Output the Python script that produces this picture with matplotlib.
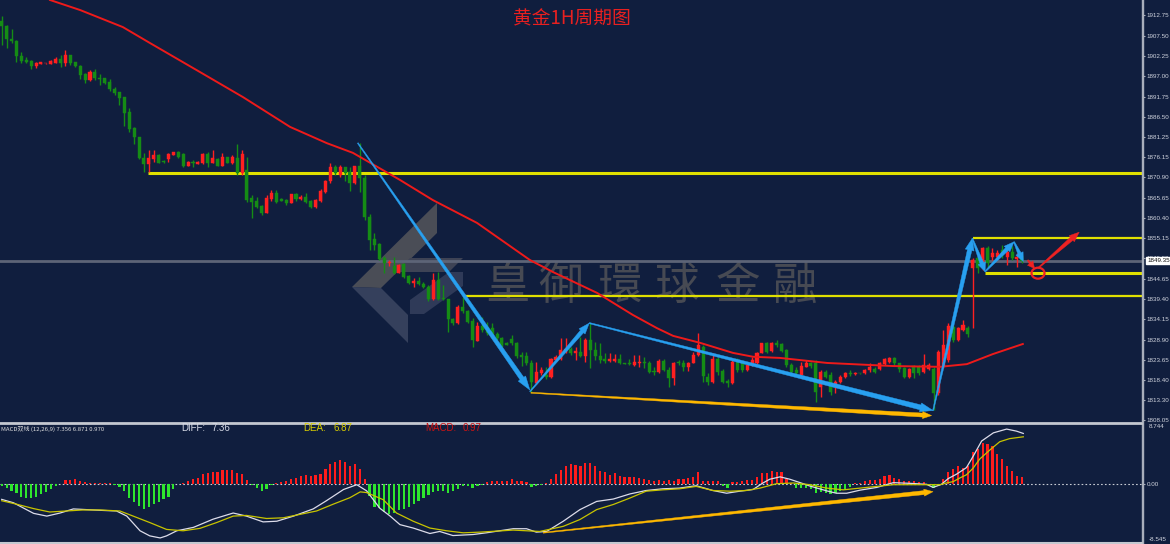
import numpy as np
import matplotlib
matplotlib.use('Agg')
import matplotlib.pyplot as plt
from matplotlib.patches import Polygon, Ellipse
from matplotlib.transforms import IdentityTransform, blended_transform_factory

plt.rcParams['font.family'] = ['Noto Sans CJK SC', 'DejaVu Sans']

# ---- 1H K线数据 ----
opens = [1911.4, 1910.0, 1906.5, 1906.2, 1902.2, 1901.2, 1900.9, 1899.6, 1900.2, 1900.3,
         1900.2, 1900.5, 1901.4, 1900.3, 1902.5, 1900.8, 1899.7, 1897.6, 1896.0, 1898.2,
         1896.6, 1896.5, 1895.6, 1893.8, 1892.8, 1891.6, 1887.8, 1883.6, 1881.3, 1875.9,
         1874.3, 1875.5, 1876.6, 1875.0, 1875.5, 1876.6, 1877.5, 1876.9, 1873.9, 1874.9,
         1874.4, 1874.5, 1876.9, 1874.7, 1875.7, 1873.9, 1876.0, 1874.5, 1875.9, 1871.9,
         1872.8, 1865.5, 1864.8, 1863.5, 1861.6, 1865.2, 1866.9, 1865.2, 1865.0, 1864.2,
         1866.6, 1865.2, 1865.7, 1864.8, 1863.1, 1864.8, 1867.2, 1869.8, 1873.5, 1871.5,
         1873.5, 1872.2, 1869.3, 1873.8, 1870.6, 1860.7, 1854.9, 1853.6, 1849.9, 1848.7,
         1848.0, 1846.2, 1848.5, 1845.4, 1843.5, 1844.2, 1843.3, 1842.6, 1839.4, 1844.3,
         1839.7, 1839.4, 1834.2, 1833.2, 1837.3, 1836.2, 1833.8, 1828.7, 1832.5, 1832.3,
         1831.9, 1830.4, 1829.3, 1828.1, 1829.0, 1828.0, 1824.9, 1824.7, 1823.0, 1817.7,
         1820.2, 1819.8, 1819.4, 1823.7, 1823.9, 1825.7, 1826.4, 1825.5, 1825.7, 1824.7,
         1828.8, 1826.3, 1824.7, 1823.9, 1823.5, 1823.5, 1823.9, 1822.8, 1822.8, 1822.4,
         1822.8, 1823.2, 1822.8, 1820.9, 1820.6, 1823.5, 1821.1, 1819.0, 1823.2, 1822.8,
         1821.9, 1823.0, 1825.0, 1827.1, 1819.4, 1818.1, 1823.9, 1820.9, 1818.3, 1817.7,
         1823.2, 1822.8, 1821.1, 1822.4, 1822.8, 1825.6, 1828.0, 1826.1, 1828.1, 1827.8,
         1826.3, 1822.4, 1821.1, 1819.8, 1821.9, 1822.9, 1822.8, 1816.8, 1820.6, 1819.8,
         1816.8, 1818.1, 1819.4, 1820.4, 1820.1, 1820.3, 1820.2, 1821.1, 1821.3, 1821.3,
         1822.6, 1823.2, 1824.1, 1822.8, 1821.5, 1819.2, 1822.1, 1821.9, 1820.6, 1821.3,
         1821.3, 1815.1, 1821.9, 1823.7, 1832.3, 1828.8, 1831.4, 1831.9, 1847.4, 1849.9,
         1849.1, 1852.5, 1850.2, 1850.4, 1852.1, 1850.4, 1851.7, 1849.7, 1850.0]
closes = [1910.0, 1906.5, 1906.2, 1902.2, 1900.9, 1900.7, 1899.6, 1900.5, 1900.6, 1900.3,
          1900.9, 1901.4, 1900.3, 1902.5, 1900.5, 1899.6, 1897.3, 1896.0, 1898.2, 1896.5,
          1896.2, 1895.3, 1893.6, 1892.6, 1891.5, 1887.6, 1883.4, 1881.3, 1875.8, 1874.3,
          1875.9, 1876.6, 1874.7, 1874.8, 1876.9, 1877.5, 1876.2, 1873.8, 1874.9, 1874.5,
          1874.9, 1876.9, 1874.7, 1875.8, 1873.9, 1876.1, 1874.7, 1876.1, 1871.9, 1876.9,
          1865.0, 1864.6, 1863.3, 1861.7, 1865.5, 1866.9, 1864.6, 1864.8, 1864.2, 1866.6,
          1865.2, 1865.9, 1864.6, 1863.3, 1865.0, 1867.4, 1869.9, 1873.6, 1871.9, 1873.6,
          1871.9, 1869.3, 1873.8, 1870.6, 1860.7, 1854.7, 1853.4, 1849.7, 1848.8, 1849.1,
          1846.2, 1848.2, 1845.2, 1843.6, 1844.2, 1843.3, 1842.5, 1839.4, 1844.3, 1839.4,
          1839.4, 1834.2, 1833.2, 1837.4, 1836.2, 1833.6, 1828.8, 1832.5, 1831.4, 1830.6,
          1829.7, 1829.3, 1827.6, 1827.6, 1828.0, 1824.7, 1824.5, 1822.8, 1818.1, 1820.6,
          1821.1, 1819.2, 1823.9, 1824.5, 1826.3, 1826.5, 1825.4, 1826.0, 1824.7, 1828.8,
          1826.3, 1824.7, 1823.7, 1823.5, 1823.9, 1823.9, 1822.8, 1822.7, 1822.6, 1823.2,
          1823.1, 1822.8, 1820.6, 1820.5, 1823.5, 1821.1, 1819.0, 1823.0, 1822.8, 1821.9,
          1823.0, 1825.0, 1827.5, 1819.5, 1818.1, 1823.9, 1820.6, 1818.1, 1817.7, 1823.2,
          1821.1, 1821.1, 1822.4, 1823.7, 1825.6, 1828.0, 1825.8, 1828.1, 1827.5, 1826.1,
          1822.4, 1820.6, 1820.2, 1822.1, 1823.0, 1822.1, 1815.5, 1820.6, 1819.4, 1815.5,
          1818.1, 1819.4, 1820.4, 1820.1, 1820.3, 1820.2, 1821.1, 1821.9, 1820.6, 1822.8,
          1823.9, 1824.1, 1822.8, 1821.3, 1819.4, 1821.3, 1820.2, 1820.2, 1822.4, 1822.4,
          1815.1, 1825.8, 1827.5, 1832.5, 1828.8, 1831.9, 1832.7, 1830.4, 1849.5, 1847.4,
          1852.5, 1848.7, 1851.4, 1851.2, 1850.8, 1851.7, 1850.0, 1850.4, 1849.35]
highs = [1912.6, 1910.2, 1909.2, 1906.4, 1903.3, 1901.9, 1901.2, 1900.8, 1900.7, 1900.4,
         1901.2, 1902.0, 1902.5, 1903.8, 1902.5, 1900.8, 1899.9, 1897.8, 1898.6, 1898.8,
         1897.6, 1896.5, 1896.2, 1894.1, 1892.8, 1891.7, 1888.8, 1883.9, 1881.4, 1877.2,
         1877.9, 1877.9, 1876.8, 1875.4, 1877.2, 1877.5, 1877.8, 1877.2, 1875.0, 1875.4,
         1875.1, 1877.1, 1877.5, 1877.9, 1875.9, 1877.1, 1876.1, 1876.6, 1879.5, 1877.9,
         1876.2, 1866.3, 1865.9, 1863.7, 1866.3, 1867.6, 1867.6, 1865.5, 1865.4, 1866.6,
         1866.9, 1866.3, 1866.9, 1865.0, 1865.2, 1867.9, 1870.2, 1874.5, 1874.1, 1874.1,
         1873.6, 1873.6, 1873.8, 1879.7, 1871.5, 1861.4, 1856.4, 1853.9, 1850.6, 1849.5,
         1850.4, 1848.5, 1848.7, 1845.6, 1844.8, 1845.1, 1843.8, 1843.1, 1846.1, 1846.4,
         1843.1, 1839.5, 1834.5, 1837.9, 1840.0, 1836.6, 1834.5, 1833.5, 1834.8, 1833.5,
         1833.2, 1830.9, 1829.7, 1828.3, 1830.1, 1828.3, 1825.7, 1825.7, 1823.7, 1823.2,
         1821.9, 1821.9, 1824.2, 1825.0, 1829.4, 1829.4, 1827.0, 1827.1, 1829.7, 1829.3,
         1833.3, 1828.4, 1828.0, 1825.4, 1825.4, 1825.2, 1825.2, 1822.9, 1823.9, 1825.0,
         1825.0, 1824.5, 1823.4, 1821.9, 1823.9, 1823.9, 1821.9, 1823.2, 1823.7, 1823.7,
         1823.2, 1825.8, 1830.6, 1827.5, 1820.2, 1825.4, 1824.5, 1821.3, 1818.7, 1823.7,
         1824.1, 1823.2, 1822.6, 1824.4, 1825.8, 1828.1, 1828.4, 1828.4, 1828.8, 1828.1,
         1826.4, 1823.0, 1821.9, 1823.2, 1823.7, 1823.2, 1823.7, 1821.1, 1821.1, 1820.6,
         1818.5, 1819.8, 1820.6, 1821.1, 1820.6, 1820.3, 1821.3, 1822.8, 1821.9, 1823.2,
         1824.1, 1824.4, 1824.5, 1823.0, 1821.9, 1821.5, 1822.4, 1822.4, 1825.2, 1822.8,
         1821.9, 1826.3, 1831.4, 1833.2, 1832.7, 1832.3, 1834.0, 1832.5, 1850.0, 1850.4,
         1852.9, 1853.0, 1852.6, 1852.1, 1853.4, 1852.1, 1853.0, 1851.2, 1850.8]
lows = [1905.1, 1904.4, 1905.6, 1900.8, 1900.5, 1900.3, 1898.9, 1899.2, 1900.1, 1900.2,
        1900.1, 1900.4, 1899.5, 1899.6, 1899.9, 1899.4, 1896.3, 1895.3, 1895.8, 1896.0,
        1894.8, 1895.0, 1893.3, 1892.2, 1889.6, 1884.1, 1882.7, 1879.5, 1875.5, 1872.3,
        1872.3, 1874.9, 1874.5, 1874.6, 1874.9, 1876.6, 1875.8, 1873.6, 1873.7, 1873.6,
        1874.3, 1874.4, 1873.6, 1874.5, 1873.8, 1873.8, 1874.5, 1874.3, 1871.5, 1871.5,
        1864.5, 1860.3, 1862.9, 1861.1, 1861.6, 1864.8, 1864.2, 1864.7, 1863.7, 1864.2,
        1864.8, 1865.0, 1864.2, 1862.9, 1862.9, 1864.5, 1866.9, 1869.5, 1871.5, 1871.0,
        1869.8, 1867.3, 1869.2, 1867.2, 1859.9, 1852.1, 1852.1, 1849.5, 1846.2, 1848.0,
        1845.9, 1846.1, 1844.9, 1843.3, 1842.6, 1843.1, 1842.3, 1839.0, 1839.2, 1839.2,
        1839.2, 1831.0, 1832.7, 1833.0, 1835.7, 1833.2, 1827.1, 1828.6, 1831.0, 1830.1,
        1829.4, 1828.8, 1827.1, 1827.5, 1827.5, 1824.2, 1822.1, 1822.4, 1815.5, 1817.5,
        1819.8, 1818.8, 1819.0, 1823.4, 1823.7, 1825.5, 1825.0, 1823.7, 1824.5, 1823.2,
        1821.5, 1823.7, 1822.8, 1823.0, 1823.2, 1823.2, 1822.6, 1822.6, 1822.3, 1822.1,
        1821.9, 1821.5, 1820.2, 1819.8, 1820.4, 1820.9, 1816.8, 1817.2, 1822.4, 1820.9,
        1820.9, 1822.8, 1824.7, 1818.1, 1817.2, 1817.7, 1819.8, 1817.8, 1816.8, 1817.5,
        1820.6, 1820.6, 1820.8, 1822.1, 1822.6, 1825.4, 1825.6, 1825.7, 1827.1, 1825.8,
        1821.9, 1820.2, 1819.8, 1819.5, 1821.8, 1821.6, 1812.9, 1814.2, 1819.0, 1814.6,
        1815.1, 1817.7, 1819.0, 1819.5, 1819.8, 1820.0, 1820.0, 1820.6, 1820.2, 1821.1,
        1822.4, 1823.0, 1822.4, 1820.6, 1819.0, 1819.0, 1819.0, 1819.8, 1820.2, 1821.1,
        1810.8, 1814.6, 1821.6, 1823.2, 1828.4, 1828.6, 1831.2, 1829.7, 1831.9, 1846.2,
        1846.9, 1847.8, 1849.5, 1850.0, 1850.0, 1848.2, 1849.5, 1847.8, 1848.7]

# 均线 (读图取点)
ma_idx = [9.85, 16.0, 24.7, 30.2, 40.4, 49.2, 58.8, 66.3, 71.6, 81.2, 87.9, 96.9, 107.7,
          112.4, 121.4, 128.7, 133.6, 136.9, 142.4, 149.1, 153.2, 158.7, 168.3, 181.7,
          191.3, 196.8, 202.1, 208.2]
ma_val = [1916.7, 1914.1, 1909.7, 1905.6, 1898.1, 1891.6, 1883.9, 1879.7, 1877.2, 1870.2,
          1865.0, 1859.1, 1849.5, 1846.4, 1841.0, 1835.3, 1831.9, 1829.9, 1828.1, 1825.5,
          1824.5, 1824.2, 1822.9, 1822.1, 1821.9, 1822.6, 1825.2, 1827.8]

# 水平支撑/阻力线
level_price = [1872.1, 1840.2, 1855.1, 1846.2]
level_start = [29.8, 94.5, 198.0, 200.5]
last_price = 1849.35

price_ticks = [1912.75, 1907.50, 1902.25, 1897.00, 1891.75, 1886.50, 1881.25, 1876.15,
               1870.90, 1865.65, 1860.40, 1855.15, 1849.90, 1844.65, 1839.40, 1834.15,
               1828.90, 1823.65, 1818.40, 1813.30, 1808.05]

# 画线分析 (起点索引, 起点价, 终点索引, 终点价)
blue_arrows = [(72.6, 1879.75, 107.7, 1815.9),
               (107.7, 1815.5, 119.8, 1833.2),
               (119.8, 1833.2, 189.9, 1810.6),
               (189.9, 1810.6, 197.9, 1855.1),
               (197.9, 1855.1, 200.5, 1846.5),
               (200.5, 1846.5, 206.4, 1854.2),
               (206.4, 1854.2, 208.3, 1849.1)]
gold_arrow = (107.9, 1815.2, 189.6, 1809.3)
red_arrows = [(209.2, 1849.5, 210.6, 1847.3), (211.3, 1847.4, 219.7, 1856.7)]
red_circle = (211.3, 1846.1)

# ---- MACD ----
macd_hist = [-0.35, -0.6, -1.05, -1.4, -1.9, -2.05, -2.05, -1.9, -1.55, -1.2,
             -0.85, -0.35, -0.1, 0.5, 0.5, 0.65, 0.35, 0.25, 0.15, 0.15,
             0.15, 0.15, 0.1, -0.15, -0.5, -1.0, -2.05, -2.75, -3.25, -3.65,
             -3.35, -3.0, -2.75, -2.3, -1.9, -0.85, -0.1, 0.15, 0.4, 0.65,
             0.85, 1.45, 1.6, 1.7, 1.7, 1.95, 2.0, 2.0, 1.6, 1.35,
             0.5, -0.2, -0.6, -1.05, -0.85, -0.15, 0.1, 0.3, 0.35, 0.75,
             0.85, 1.1, 1.2, 1.1, 1.2, 1.45, 2.2, 2.9, 3.15, 3.4,
             3.15, 2.6, 2.9, 2.2, 0.65, -1.8, -3.35, -3.5, -4.2, -4.4,
             -4.3, -3.9, -3.7, -3.4, -3.05, -2.6, -2.1, -1.6, -1.25, -1.1,
             -1.0, -1.35, -1.1, -0.85, -0.4, -0.3, -0.65, -0.4, -0.15, 0.2,
             0.45, 0.45, 0.45, 0.35, 0.7, 0.35, 0.45, 0.3, -0.55, -0.4,
             -0.25, 0.1, 0.7, 1.45, 2.05, 2.65, 2.85, 2.7, 2.65, 3.1,
             3.0, 2.55, 1.8, 1.65, 1.3, 1.55, 1.15, 1.0, 1.0, 1.0,
             0.85, 0.7, 0.6, 0.35, 0.5, 0.35, 0.5, 0.4, 0.7, 0.7,
             0.8, 1.0, 1.65, 0.35, 0.35, 0.35, 0.35, -0.4, -0.65, 0.2,
             0.2, 0.35, 0.5, 0.6, 1.05, 1.6, 1.6, 1.85, 1.75, 1.7,
             0.65, 0.15, -0.6, -0.6, -0.6, -0.85, -1.3, -1.2, -1.4, -1.55,
             -1.3, -1.05, -0.85, -0.5, 0.05, 0.15, 0.35, 0.5, 0.5, 0.75,
             1.1, 1.2, 0.9, 0.65, 0.4, 0.35, 0.4, 0.25, 0.25, -0.35,
             -0.6, -0.35, 0.65, 1.7, 2.1, 2.6, 2.35, 2.6, 4.65, 5.1,
             5.9, 5.75, 5.5, 4.3, 3.55, 2.6, 1.85, 1.1, 0.97]

diff_idx = [0, 2.4, 6.5, 9.2, 11.9, 14.6, 20, 23.4, 25.5, 28.2, 30.2, 32.3, 33.6, 35.7,
            39.1, 43.1, 47.2, 49.9, 53.3, 56.1, 59.5, 63.5, 66.2, 69.7, 72.4, 74.4, 77.1,
            79.2, 81.2, 83.9, 87.3, 89.3, 92, 96.1, 98.8, 104.3, 107, 109, 111.1, 114.5,
            117.9, 121.3, 124.7, 128.1, 131.4, 134.8, 138.2, 141.6, 145, 147.8, 150.5,
            153.2, 155.2, 156.6, 158.7, 160.7, 162.8, 164.8, 168.2, 170.2, 172.3, 175,
            178.4, 181.8, 185.2, 188.6, 189.9, 191.6, 193, 194.7, 196.7, 198.1, 199.8,
            202.2, 204.9, 206.9, 208.3]
diff_val = [-2.3, -2.8, -4.35, -4.75, -4.3, -3.7, -3.9, -4.0, -4.75, -6.9, -7.65, -7.95,
            -7.65, -6.9, -6.4, -5.2, -4.3, -4.75, -5.6, -5.5, -4.75, -3.7, -2.5, -0.85,
            -0.15, -1.05, -3.6, -4.75, -6.0, -6.5, -7.3, -7.0, -7.6, -7.45, -7.2, -6.6,
            -6.6, -7.1, -7.0, -5.5, -3.8, -2.6, -2.25, -1.5, -1.0, -0.75, -0.65, -0.3,
            -1.0, -1.4, -1.1, -0.85, 0.1, 0.65, 1.0, 0.65, 0.15, -0.35, -1.05, -1.4,
            -1.4, -0.95, -0.55, 0.15, 0.05, -0.1, -0.55, -0.1, 0.75, 1.4, 2.35, 4.05,
            6.25, 7.45, 8.0, 7.7, 7.36]
dea_idx = [0, 3.0, 6.5, 9.8, 13.2, 16.6, 20, 24.1, 26.8, 30.2, 33.6, 37, 40.4, 43.8, 47.2,
           49.9, 54, 57.4, 60.8, 64.2, 67.6, 71, 73.1, 74.4, 77.8, 80.5, 83.9, 87.3, 90.7,
           94.1, 97.5, 104.3, 109.7, 114.5, 117.9, 121.3, 124.7, 128.1, 131.4, 134.8,
           138.2, 141.6, 145, 148.5, 151.8, 154.6, 158, 161.4, 164.8, 168.2, 171.6, 175,
           178.4, 181.8, 188.6, 191.3, 192.6, 194, 195.4, 196.7, 198.1, 199.4, 201.5,
           203.5, 205.5, 208.3]
dea_val = [-2.5, -3.0, -3.65, -4.15, -4.0, -3.85, -3.85, -4.0, -4.75, -5.7, -6.7, -6.9,
           -6.55, -5.7, -4.75, -4.65, -5.1, -5.0, -4.5, -4.0, -3.0, -2.05, -1.2, -1.3,
           -2.35, -4.3, -5.5, -6.5, -6.9, -7.2, -7.1, -6.8, -7.0, -6.25, -5.25, -3.8,
           -3.05, -2.1, -1.1, -0.9, -0.75, -0.4, -1.0, -1.1, -1.0, -0.65, 0.0, 0.1,
           -0.15, -0.65, -0.9, -0.65, -0.4, -0.15, -0.15, -0.15, 0.1, 0.3, 0.85, 1.3,
           2.3, 3.6, 4.95, 6.15, 6.6, 6.87]
macd_gold = (110.4, -7.18, 189.9, -1.17)

# ---- 颜色 ----
BG = '#101e3e'
UP = '#ff2020'
DOWN = '#158c15'

W, H = 1170, 544
fig = plt.figure(figsize=(W / 100, H / 100), dpi=100, facecolor=BG)
ax = fig.add_axes([0, 123 / H, 1142 / W, 421 / H], facecolor=BG)
ax2 = fig.add_axes([0, 2 / H, 1142 / W, 118 / H], facecolor=BG)

x_lim = (-0.35, 232.5)
for a in (ax, ax2):
    a.set_xlim(*x_lim)
    for s in ('top', 'left', 'bottom'):
        a.spines[s].set_visible(False)
    a.spines['right'].set_color('#a8aebb')
    a.spines['right'].set_linewidth(1)
    a.set_xticks([])
    a.yaxis.tick_right()
    a.tick_params(axis='y', colors='#a8aebb', labelcolor='#d0d4de', labelsize=4.5,
                  length=2, width=0.8, pad=1.5)
ax.set_ylim(1807.9, 1916.7)
ax2.set_ylim(-8.545, 8.744)

ax.set_yticks(price_ticks)
ax.set_yticklabels(['%.2f' % v for v in price_ticks], fontfamily='Liberation Sans')
ax2.set_yticks([0])
ax2.set_yticklabels(['0.00'], fontfamily='Liberation Sans')

# ---- 水印 ----
def px(xp, yp, a=ax, hpx=421, ytop=0):
    return (xp / 1142, 1 - (yp - ytop) / hpx)

logo_shapes = [
    ([(352, 287), (437, 203), (437, 233), (381, 288)], '#4a4d56'),
    ([(352, 287), (381, 288), (408, 315), (408, 343)], '#35405c'),
    ([(396, 272), (410, 258), (463, 258), (449, 272)], '#3e4355'),
    ([(410, 300), (449, 272), (463, 272), (463, 286), (424, 314), (410, 314)], '#2f3a58'),
]
for pts, col in logo_shapes:
    ax.add_patch(Polygon([px(*p) for p in pts], closed=True, transform=ax.transAxes,
                         facecolor=col, edgecolor='none', zorder=0.5))

wm_text = '皇御環球金融'
wm_x = [507, 561, 620, 677, 738, 795]
for ch, xc in zip(wm_text, wm_x):
    ax.text(*px(xc, 286), ch, transform=ax.transAxes, ha='center', va='center',
            fontsize=32, color='#474a53', zorder=0.6,
            family=['Noto Sans CJK TC', 'Noto Sans CJK SC'])

# ---- 横线 ----
ax.axhline(last_price, color='#5d6477', lw=2, zorder=1)
level_lw = [2.2, 1.6, 1.6, 2.2]
for p, s, lw in zip(level_price, level_start, level_lw):
    ax.plot([s, x_lim[1]], [p, p], color='#e0e000', lw=lw, zorder=2, solid_capstyle='butt')

# ---- K线 ----
o = np.array(opens); c = np.array(closes); hi = np.array(highs); lo = np.array(lows)
idx = np.arange(len(o))
cols = np.where(c >= o, UP, DOWN)
ax.vlines(idx, lo, hi, colors=cols, lw=1, zorder=3)
ax.bar(idx, np.maximum(np.abs(c - o), 0.2), bottom=np.minimum(o, c), width=0.62,
       color=cols, edgecolor=cols, linewidth=0.3, zorder=3.1)

# 均线
ax.plot(ma_idx, ma_val, color='#ee1a1a', lw=1.4, zorder=4)

# ---- 箭头 ----
def taper(a, seg, w0, w1, hw, hl, color, z=6):
    p0 = a.transData.transform(seg[:2]); p1 = a.transData.transform(seg[2:])
    d = p1 - p0
    u = d / np.hypot(*d)
    n = np.array([-u[1], u[0]])
    q = p1 - u * hl
    pts = [p0 + n * w0 / 2, q + n * w1 / 2, q + n * hw / 2, p1,
           q - n * hw / 2, q - n * w1 / 2, p0 - n * w0 / 2]
    a.add_patch(Polygon(pts, closed=True, transform=IdentityTransform(),
                        facecolor=color, edgecolor=color, lw=0.3, zorder=z))

BLUE = '#28a0f0'
taper(ax, blue_arrows[0], 1, 4.5, 9, 14, BLUE)
taper(ax, blue_arrows[1], 1, 4, 8, 11, BLUE)
taper(ax, blue_arrows[2], 1.2, 5, 9, 13, BLUE)
taper(ax, blue_arrows[3], 1, 4.5, 9, 12, BLUE)
taper(ax, blue_arrows[4], 1, 4, 8, 9, BLUE)
taper(ax, blue_arrows[5], 1, 4, 8, 10, BLUE)
taper(ax, blue_arrows[6], 1, 3.5, 8, 9, BLUE)
taper(ax, gold_arrow, 1, 4, 7, 9, '#ffb800')
taper(ax, red_arrows[0], 1, 2.5, 7, 7, '#ee2222')
taper(ax, red_arrows[1], 1, 4, 8, 10, '#ee2222')
cc = ax.transData.transform(red_circle)
ax.add_patch(Ellipse(cc, 13, 11, transform=IdentityTransform(), fill=False,
                     edgecolor='#ee2222', lw=1.6, zorder=6))

# 现价标签
bt = blended_transform_factory(ax.transAxes, ax.transData)
ax.text(1.0045, last_price, '%.2f' % last_price, transform=bt, ha='left', va='center',
        fontsize=4.5, color='#101010', family='Liberation Sans', zorder=10,
        bbox=dict(boxstyle='square,pad=0.2', fc='white', ec='white'))

# ---- MACD 面板 ----
hist = np.array(macd_hist)
hidx = np.arange(len(hist))
ax2.bar(hidx, hist, width=0.45, color=np.where(hist >= 0, '#ff1c1c', '#2ee62e'), zorder=2)
ax2.axhline(0, color='#c8ccd4', lw=0.8, ls=(0, (1.5, 2)), zorder=1)
ax2.plot(diff_idx, diff_val, color='#dcdcea', lw=0.9, zorder=3)
ax2.plot(dea_idx, dea_val, color='#c8c400', lw=0.9, zorder=3)
taper(ax2, macd_gold, 1, 4, 7, 9, '#ffb800')

b2 = blended_transform_factory(ax2.transAxes, ax2.transData)
ax2.text(1.006, 8.744, '8.744', transform=b2, ha='left', va='top', fontsize=4.5,
         color='#d0d4de', family='Liberation Sans')
ax2.text(1.006, -8.545, '-8.545', transform=b2, ha='left', va='bottom', fontsize=4.5,
         color='#d0d4de', family='Liberation Sans')

# 分隔线
fig.add_artist(plt.Line2D([0, 1142 / W], [1 - 422.5 / H] * 2, color='#c4c8d0', lw=2))
fig.add_artist(plt.Line2D([0, 1142 / W], [1 - 542.5 / H] * 2, color='#c4c8d0', lw=1.5))
fig.add_artist(plt.Line2D([1142.5 / W] * 2, [0, 1], color='#a8aebb', lw=1))

# 标题与指标文字
fig.text(572 / W, 1 - 19 / H, '黄金1H周期图', ha='center', va='center', fontsize=13.5,
         color='#e82020')

def ft(xp, yp, s, col, size=7):
    fig.text(xp / W, 1 - yp / H, s, ha='left', va='center', fontsize=size, color=col,
             family='Liberation Sans')

fig.text(1 / W, 1 - 428.5 / H, 'MACD双线 (12,26,9) 7.356 6.871 0.970', ha='left',
         va='center', fontsize=4.3, color='#e0e0e0')
ft(181, 428, 'DIFF:', '#d4d8e4')
ft(211, 428, '7.36', '#d4d8e4')
ft(303, 428, 'DEA:', '#d8cc00')
ft(333, 428, '6.87', '#d8cc00')
ft(425, 428, 'MACD:', '#cc1414')
ft(463, 428, '0.97', '#cc1414')

fig.savefig('out.png', dpi=100, facecolor=BG)
